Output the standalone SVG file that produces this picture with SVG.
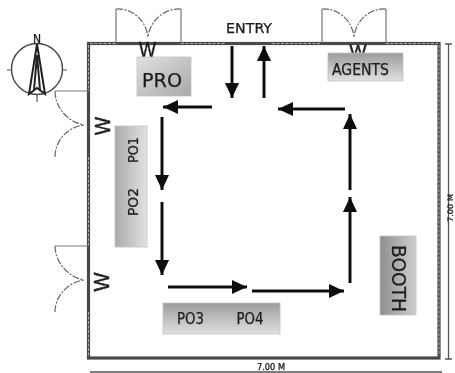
<svg xmlns="http://www.w3.org/2000/svg" width="455" height="373" viewBox="0 0 455 373">
<style>
text{font-family:"DejaVu Sans Condensed","Liberation Sans",sans-serif;fill:#1c1c1c;stroke:#1c1c1c;stroke-width:.25}
.wall{fill:none;stroke:#484848;stroke-width:3.2}
.light{fill:none;stroke:#aaa;stroke-width:1;stroke-dasharray:3 1.500}
.door{fill:none;stroke:#777;stroke-width:1.200}
.arc{fill:none;stroke:#666;stroke-width:1.200;stroke-dasharray:7 1.500 2 1.500}
.dim{fill:none;stroke:#555;stroke-width:1.300}
.flow{fill:none;stroke:#111;stroke-width:3;marker-end:url(#ah)}
.w{font-family:"Liberation Sans",sans-serif;text-anchor:middle;stroke-width:.5}
.lab{text-anchor:middle}
.box{stroke:#c4c4c4;stroke-width:.8}
</style>
<defs>
<marker id="ah" markerUnits="userSpaceOnUse" markerWidth="15" markerHeight="14" refX="15" refY="7" orient="auto"><path d="M0 0L15 7L0 14Z" fill="#111"/></marker>
<linearGradient id="gh" x1="0" y1="0" x2="1" y2="0"><stop offset="0" stop-color="#aaa"/><stop offset="1" stop-color="#e2e2e2"/></linearGradient>
<linearGradient id="gt" x1="0" y1="0" x2="1" y2="1"><stop offset="0" stop-color="#e0e0e0"/><stop offset="1" stop-color="#a8a8a8"/></linearGradient>
<linearGradient id="ga" x1="0" y1="0" x2="0" y2="1"><stop offset="0" stop-color="#9c9c9c"/><stop offset="1" stop-color="#e0e0e0"/></linearGradient>
<linearGradient id="gb" x1="0" y1="0" x2="1" y2="0"><stop offset="0" stop-color="#8e8e8e"/><stop offset="1" stop-color="#cfcfcf"/></linearGradient>
<filter id="soft" x="-5%" y="-5%" width="110%" height="110%"><feGaussianBlur stdDeviation="0.45"/></filter>
</defs>
<rect width="455" height="373" fill="#fff"/>
<g filter="url(#soft)">
<g id="room">
<rect class="wall" x="88.500" y="43.500" width="350.500" height="314.500"/>
<path class="light" d="M90 43.500H116M181 43.500H226M272 43.500H321M386 43.500H438M88.500 45V91M88.500 157V246M88.500 312V356M439 45V356"/>
</g>
<g id="door-top-left"><path class="door" d="M116 43V9M181 43V9"/><path class="arc" d="M116 9C132 8 146 20 148 37M181 9C165 8 150 20 148 37"/></g>
<g id="door-top-right"><path class="door" d="M322 43V9M386 43V9"/><path class="arc" d="M322 9C338 8 352 20 354 37M386 9C370 8 356 20 354 37"/></g>
<g id="door-left-1"><path class="door" d="M88 91H55"/><path class="arc" d="M55 91C55 108 68 122 84 125M55 157C55 140 68 127 84 125"/></g>
<g id="door-left-2"><path class="door" d="M88 246H55"/><path class="arc" d="M55 246C55 262 68 277 84 280M55 312C55 296 68 282 84 280"/></g>
<g id="compass">
<circle cx="37" cy="69" r="25.500" fill="none" stroke="#444" stroke-width="1.400"/>
<path d="M7 70H12M62 70H67M37 95V102" stroke="#555" stroke-width="1.200"/>
<path d="M37 44L29 94L37 88L45 94Z M37 55L34 90M37 55L40 90" fill="none" stroke="#222" stroke-width="2"/>
<text x="37" y="43" font-size="12" text-anchor="middle">N</text>
</g>
<g id="w-top-left"><text class="w" x="147.500" y="57" font-size="22" textLength="17" lengthAdjust="spacingAndGlyphs">W</text></g>
<g id="w-top-right"><text class="w" x="358" y="57" font-size="17" textLength="17" lengthAdjust="spacingAndGlyphs">W</text></g>
<g id="w-left-1"><text class="w" transform="translate(110 126) rotate(-90)" font-size="22" textLength="18" lengthAdjust="spacingAndGlyphs">W</text></g>
<g id="w-left-2"><text class="w" transform="translate(109 282) rotate(-90)" font-size="22" textLength="19" lengthAdjust="spacingAndGlyphs">W</text></g>
<g id="entry"><text x="249" y="33" font-size="13.500" class="lab" textLength="46" lengthAdjust="spacingAndGlyphs">ENTRY</text></g>
<g id="pro"><rect class="box" x="137" y="57" width="54" height="39" fill="url(#gt)"/><text class="lab" x="162" y="87" font-size="20" textLength="40" lengthAdjust="spacingAndGlyphs">PRO</text></g>
<g id="agents"><rect class="box" x="328" y="53" width="75" height="28" fill="url(#ga)"/><text class="lab" x="360.500" y="74.500" font-size="15.500" textLength="57" lengthAdjust="spacingAndGlyphs">AGENTS</text></g>
<g id="po1-po2"><rect class="box" x="115" y="126" width="32" height="121" fill="url(#gh)"/>
<text class="lab" transform="translate(138 150) rotate(-90)" font-size="14" textLength="26" lengthAdjust="spacingAndGlyphs">PO1</text>
<text class="lab" transform="translate(138 202) rotate(-90)" font-size="14" textLength="28" lengthAdjust="spacingAndGlyphs">PO2</text></g>
<g id="po3-po4"><rect class="box" x="163" y="303" width="117" height="31" fill="url(#ga)"/>
<text class="lab" x="190.500" y="324" font-size="15" textLength="27" lengthAdjust="spacingAndGlyphs">PO3</text>
<text class="lab" x="250" y="324" font-size="15" textLength="27" lengthAdjust="spacingAndGlyphs">PO4</text></g>
<g id="booth"><rect class="box" x="380" y="236" width="36" height="79" fill="url(#gb)"/><text class="lab" transform="translate(392 278.500) rotate(90)" font-size="20" textLength="67" lengthAdjust="spacingAndGlyphs">BOOTH</text></g>
<g id="connectors">
<path class="flow" d="M232 46V98"/>
<path class="flow" d="M264 98V46"/>
<path class="flow" d="M212 107H163"/>
<path class="flow" d="M345 109H278"/>
<path class="flow" d="M350 190V114"/>
<path class="flow" d="M350 283V197"/>
<path class="flow" d="M252 291H344"/>
<path class="flow" d="M168 287H247"/>
<path class="flow" d="M162 202V275"/>
<path class="flow" d="M162 117V190"/>
</g>
<g id="dimensions">
<path class="dim" d="M448.500 44V359M445 44H452M445 359H452M90 372H442"/>
<text x="271" y="370" font-size="8" class="lab" textLength="28" lengthAdjust="spacingAndGlyphs">7.00 M</text>
<text class="lab" transform="translate(453 208) rotate(-90)" font-size="7.500" textLength="28" lengthAdjust="spacingAndGlyphs">7.00 M</text>
</g>
</g>
</svg>
